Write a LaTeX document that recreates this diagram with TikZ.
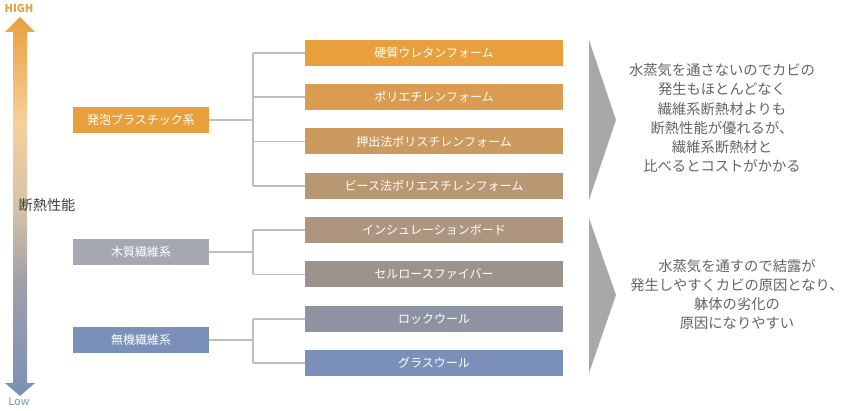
\documentclass[tikz,border=0pt]{standalone}
\usepackage{fontspec}
\setmainfont{Noto Sans CJK JP}
\usepackage{tikz}
\usetikzlibrary{calc}

\definecolor{cFoam}{RGB}{232,160,60}
\definecolor{cPE}{RGB}{217,156,80}
\definecolor{cXPS}{RGB}{204,154,94}
\definecolor{cEPS}{RGB}{184,152,114}
\definecolor{cBoard}{RGB}{172,150,128}
\definecolor{cCell}{RGB}{156,147,141}
\definecolor{cRock}{RGB}{142,147,162}
\definecolor{cGlass}{RGB}{122,144,184}
\definecolor{cWood}{RGB}{166,168,176}
\definecolor{cLine}{RGB}{190,190,190}
\definecolor{cChev}{RGB}{168,168,168}
\definecolor{cNote}{RGB}{100,100,100}

\pgfdeclareverticalshading{heatbar}{100bp}{%
  color(0bp)=(cGlass); color(25bp)=(cGlass); color(40bp)=(rgb,255:red,160;green,160;blue,168);
  color(50bp)=(rgb,255:red,214;green,194;blue,168); color(61bp)=(rgb,255:red,245;green,208;blue,156);
  color(75bp)=(cFoam); color(100bp)=(cFoam)}

\begin{document}
\begin{tikzpicture}[x=1pt, y=-1pt,
    item/.style={fill=#1, text=white, minimum width=258pt, minimum height=26pt, inner sep=0pt, font=\fontsize{12}{12}\selectfont},
    group/.style={fill=#1, text=white, minimum width=136pt, minimum height=26pt, inner sep=0pt, font=\fontsize{12}{12}\selectfont},
    link/.style={draw=cLine, line width=1.5pt},
    note/.style={text=cNote, align=center, font=\fontsize{14.3}{19.2}\selectfont}]
	\useasboundingbox (0,0) rectangle (844,411);

	% heat arrow
	\shade[shading=heatbar] (20,17)--(35,32)--(27,32)--(27,383)--(35,383)--(20,396)--(5,383)--(13,383)--(13,32)--(5,32)--cycle;
	\node[text=cFoam, font=\fontsize{11}{11}\selectfont\bfseries] (high) at (19,8) {HIGH};
	\node[text=cGlass, font=\fontsize{11}{11}\selectfont] (low) at (19,402) {Low};
	\node[text=black!75, font=\fontsize{14.2}{15}\selectfont] (perf) at (47,205) {断熱性能};

	% groups
	\node[group=cFoam] (foam) at (141,120) {発泡プラスチック系};
	\node[group=cWood] (wood) at (141,252) {木質繊維系};
	\node[group=cGlass] (inorg) at (141,340) {無機繊維系};

	% items
	\node[item=cFoam] (urethane) at (434,53) {硬質ウレタンフォーム};
	\node[item=cPE] (pe) at (434,97) {ポリエチレンフォーム};
	\node[item=cXPS] (xps) at (434,141.5) {押出法ポリスチレンフォーム};
	\node[item=cEPS] (eps) at (434,186) {ビース法ポリエスチレンフォーム};
	\node[item=cBoard] (board) at (434,230) {インシュレーションボード};
	\node[item=cCell] (cellulose) at (434,274.5) {セルロースファイバー};
	\node[item=cRock] (rock) at (434,319) {ロックウール};
	\node[item=cGlass] (glass) at (434,363) {グラスウール};

	% tree lines
	\coordinate (bus) at (253,0);
	\draw[link] (foam.east) -- (foam.east -| bus);
	\draw[link] (wood.east) -- (wood.east -| bus);
	\draw[link] (inorg.east) -- (inorg.east -| bus);
	\draw[link] (urethane.west -| bus) -- (eps.west -| bus);
	\draw[link] (board.west -| bus) -- (cellulose.west -| bus);
	\draw[link] (rock.west -| bus) -- (glass.west -| bus);
	\foreach \n in {urethane,pe,xps,eps,board,cellulose,rock,glass}
		\draw[link] (\n.west -| bus) -- (\n.west);

	% chevrons
	\fill[cChev] (589,40) -- (616,120) -- (589,200) -- cycle;
	\fill[cChev] (589,218) -- (616,295) -- (589,373) -- cycle;

	% notes
	\node[note] (foamnote) at (722,118) {水蒸気を通さないのでカビの\\発生もほとんどなく\\繊維系断熱材よりも\\断熱性能が優れるが、\\繊維系断熱材と\\比べるとコストがかかる};
	\node[note] (fibrenote) at (737,294.5) {水蒸気を通すので結露が\\発生しやすくカビの原因となり、\\躰体の劣化の\\原因になりやすい};
\end{tikzpicture}
\end{document}
